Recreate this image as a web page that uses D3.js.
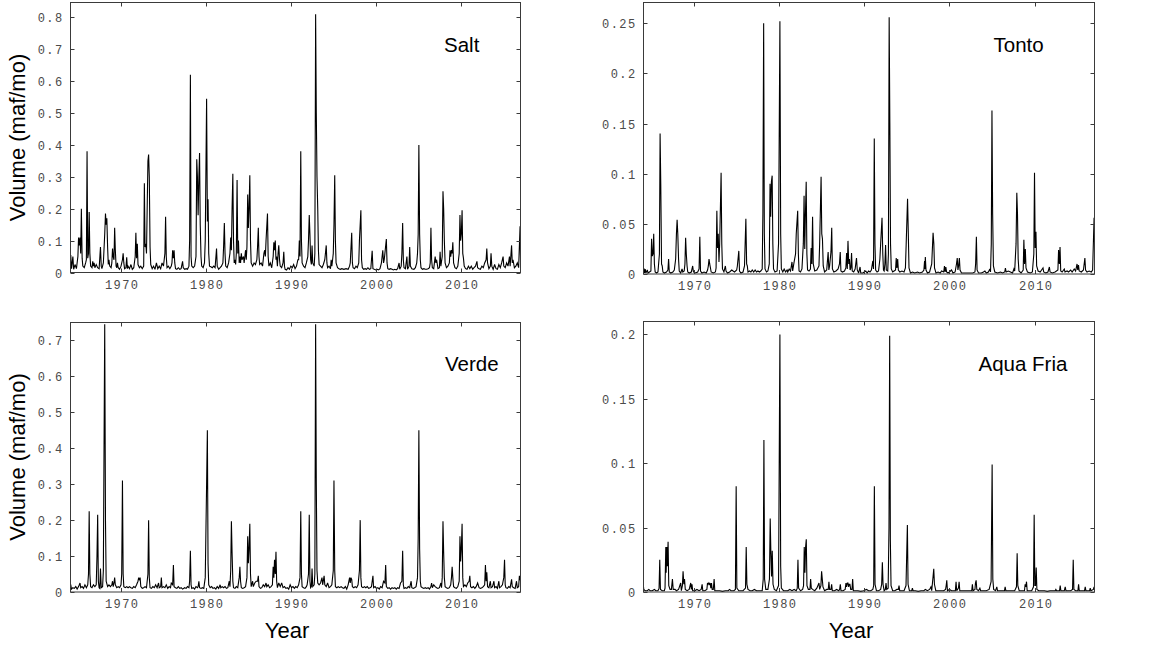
<!DOCTYPE html>
<html><head><meta charset="utf-8">
<script src="https://cdn.jsdelivr.net/npm/d3@7"></script>
<style>
html,body{margin:0;padding:0;background:#fff;}
svg{display:block;}
.tick-label{font-family:"Liberation Mono","DejaVu Sans Mono",monospace;font-size:12px;letter-spacing:1.4px;fill:#4a4a4a;}
.big{font-family:"Liberation Sans",Arial,sans-serif;fill:#000;}
</style></head>
<body>
<svg id="chart" width="1151" height="648"></svg>
<script>
// ---- data (monthly volumes, maf/mo; [decimal year, value]) ----
const panelNames = ["Salt", "Tonto", "Verde", "Aqua Fria"];
const yearTicks = [1970, 1980, 1990, 2000, 2010];
const saltTicks = [0, 0.1, 0.2, 0.3, 0.4, 0.5, 0.6, 0.7, 0.8];
const tontoTicks = [0, 0.05, 0.1, 0.15, 0.2, 0.25];
const verdeTicks = [0, 0.1, 0.2, 0.3, 0.4, 0.5, 0.6, 0.7];
const aquaTicks = [0, 0.05, 0.1, 0.15, 0.2];
const yMaxes = [0.847, 0.2706, 0.75, 0.21];

const salt = [
[1964.0,0.015],[1964.08,0.055],[1964.17,0.012],[1964.25,0.03],[1964.33,0.05],[1964.42,0.01],[1964.58,0.025],[1964.75,0.012],[1964.92,0.05],
[1965.0,0.11],[1965.08,0.085],[1965.17,0.11],[1965.25,0.06],[1965.33,0.2],[1965.42,0.045],[1965.5,0.02],[1965.67,0.015],[1965.83,0.03],[1965.92,0.04],
[1966.0,0.38],[1966.08,0.045],[1966.17,0.06],[1966.25,0.19],[1966.33,0.06],[1966.42,0.02],[1966.58,0.015],[1966.67,0.035],[1966.75,0.02],[1966.83,0.03],[1966.92,0.015],[1967.08,0.025],[1967.25,0.015],[1967.42,0.012],
[1967.58,0.08],[1967.67,0.02],[1967.75,0.012],[1967.92,0.03],[1968.08,0.12],
[1968.17,0.185],[1968.25,0.15],[1968.33,0.17],[1968.42,0.08],[1968.5,0.025],[1968.58,0.04],[1968.67,0.02],[1968.83,0.015],[1968.92,0.03],
[1969.0,0.075],[1969.08,0.05],[1969.17,0.04],[1969.25,0.14],[1969.33,0.07],[1969.42,0.02],[1969.5,0.015],[1969.58,0.03],[1969.67,0.015],[1969.83,0.01],[1970.0,0.02],[1970.17,0.04],
[1970.25,0.06],[1970.33,0.03],[1970.42,0.012],[1970.58,0.015],[1970.67,0.048],[1970.75,0.012],[1970.83,0.02],[1971.0,0.012],[1971.17,0.025],[1971.33,0.01],[1971.5,0.015],[1971.67,0.05],
[1971.75,0.125],[1971.83,0.045],[1971.92,0.09],[1972.0,0.025],[1972.17,0.015],[1972.33,0.02],[1972.5,0.012],[1972.67,0.02],
[1972.75,0.28],[1972.83,0.08],[1972.92,0.09],[1973.0,0.06],[1973.08,0.2],[1973.17,0.35],[1973.25,0.37],[1973.33,0.3],[1973.42,0.08],[1973.5,0.025],[1973.67,0.012],[1973.83,0.02],[1974.0,0.01],[1974.17,0.03],[1974.33,0.012],[1974.5,0.02],[1974.67,0.012],[1974.83,0.03],[1975.0,0.02],[1975.17,0.06],
[1975.25,0.175],[1975.33,0.05],[1975.42,0.015],[1975.58,0.02],[1975.75,0.012],[1975.92,0.02],[1976.0,0.03],[1976.08,0.07],[1976.17,0.045],[1976.25,0.07],[1976.33,0.03],[1976.42,0.012],[1976.58,0.01],[1976.75,0.015],[1976.92,0.01],[1977.08,0.012],[1977.25,0.035],[1977.33,0.015],[1977.5,0.01],[1977.67,0.012],[1977.83,0.01],[1978.0,0.02],[1978.08,0.1],
[1978.17,0.62],[1978.25,0.05],[1978.33,0.02],[1978.5,0.015],[1978.67,0.02],[1978.83,0.05],
[1978.92,0.355],[1979.0,0.3],[1979.08,0.18],[1979.17,0.3],[1979.25,0.375],[1979.33,0.15],[1979.42,0.05],[1979.5,0.02],[1979.67,0.015],[1979.83,0.03],[1979.92,0.1],
[1980.08,0.545],[1980.17,0.16],[1980.25,0.23],[1980.33,0.06],[1980.42,0.02],[1980.58,0.018],[1980.75,0.015],[1980.92,0.02],[1981.08,0.015],
[1981.25,0.075],[1981.33,0.02],[1981.5,0.01],[1981.67,0.015],[1981.83,0.02],[1982.0,0.03],[1982.08,0.08],
[1982.17,0.155],[1982.25,0.06],[1982.33,0.02],[1982.5,0.015],[1982.67,0.03],[1982.83,0.06],
[1982.92,0.11],[1983.0,0.07],[1983.08,0.2],[1983.17,0.31],[1983.25,0.1],[1983.33,0.03],[1983.42,0.04],[1983.5,0.025],[1983.58,0.06],[1983.67,0.29],[1983.75,0.06],[1983.83,0.1],[1983.92,0.03],[1984.0,0.05],[1984.08,0.03],[1984.17,0.06],[1984.25,0.04],[1984.42,0.05],[1984.5,0.03],[1984.67,0.07],[1984.75,0.04],[1984.83,0.08],
[1984.92,0.245],[1985.0,0.14],[1985.08,0.2],[1985.17,0.305],[1985.25,0.1],[1985.33,0.03],[1985.5,0.02],[1985.67,0.03],[1985.83,0.025],[1986.0,0.04],[1986.08,0.08],
[1986.17,0.14],[1986.25,0.05],[1986.33,0.025],[1986.5,0.03],[1986.67,0.02],[1986.83,0.06],[1986.92,0.07],[1987.0,0.05],[1987.08,0.1],
[1987.25,0.185],[1987.33,0.05],[1987.42,0.02],[1987.58,0.03],[1987.75,0.015],[1987.92,0.05],[1988.0,0.095],[1988.08,0.07],
[1988.17,0.1],[1988.25,0.04],[1988.33,0.05],[1988.42,0.02],[1988.5,0.06],[1988.58,0.085],[1988.67,0.04],[1988.75,0.02],[1988.92,0.015],[1989.08,0.03],
[1989.17,0.065],[1989.25,0.02],[1989.33,0.01],[1989.5,0.008],[1989.67,0.015],[1989.83,0.01],[1990.0,0.02],[1990.17,0.015],[1990.33,0.025],[1990.5,0.012],[1990.67,0.02],[1990.83,0.04],[1990.92,0.04],[1991.0,0.1],[1991.08,0.05],
[1991.17,0.38],[1991.25,0.1],[1991.33,0.03],[1991.5,0.02],[1991.67,0.015],[1991.83,0.03],[1992.0,0.05],[1992.08,0.1],
[1992.17,0.18],[1992.25,0.12],[1992.33,0.04],[1992.42,0.025],[1992.5,0.085],[1992.58,0.03],[1992.75,0.02],[1992.83,0.06],
[1992.92,0.81],[1993.0,0.5],[1993.08,0.3],[1993.17,0.2],[1993.25,0.07],[1993.33,0.025],[1993.5,0.02],[1993.67,0.015],[1993.83,0.025],[1994.0,0.04],
[1994.17,0.085],[1994.25,0.03],[1994.33,0.015],[1994.5,0.02],[1994.67,0.012],[1994.75,0.04],[1994.83,0.02],[1994.92,0.04],[1995.0,0.06],[1995.08,0.15],
[1995.17,0.305],[1995.25,0.1],[1995.33,0.03],[1995.5,0.015],[1995.67,0.012],[1995.83,0.01],[1996.0,0.012],[1996.25,0.01],[1996.5,0.012],[1996.75,0.01],[1996.92,0.02],[1997.0,0.03],
[1997.17,0.125],[1997.25,0.03],[1997.33,0.015],[1997.5,0.012],[1997.67,0.02],[1997.83,0.015],[1998.0,0.03],[1998.08,0.1],
[1998.25,0.195],[1998.33,0.04],[1998.42,0.015],[1998.58,0.01],[1998.75,0.012],[1998.92,0.01],[1999.08,0.015],[1999.25,0.01],[1999.42,0.012],
[1999.58,0.068],[1999.67,0.012],[1999.83,0.01],[2000.0,0.008],[2000.17,0.01],[2000.33,0.008],[2000.5,0.012],[2000.67,0.03],
[2000.83,0.07],[2000.92,0.03],[2001.0,0.04],[2001.08,0.06],[2001.25,0.105],[2001.33,0.03],[2001.42,0.012],[2001.58,0.01],[2001.75,0.012],[2001.92,0.01],[2002.08,0.008],[2002.25,0.01],[2002.42,0.008],[2002.58,0.012],[2002.75,0.03],[2002.83,0.01],[2003.0,0.02],[2003.08,0.06],
[2003.17,0.155],[2003.25,0.04],[2003.33,0.015],[2003.5,0.012],[2003.67,0.05],[2003.75,0.01],[2003.92,0.02],
[2004.0,0.08],[2004.08,0.02],[2004.25,0.012],[2004.5,0.01],[2004.67,0.015],[2004.83,0.03],[2004.92,0.06],
[2005.0,0.12],[2005.08,0.4],[2005.17,0.12],[2005.25,0.04],[2005.33,0.015],[2005.5,0.01],[2005.67,0.012],[2005.83,0.01],[2006.0,0.01],[2006.17,0.012],[2006.33,0.015],[2006.42,0.03],
[2006.5,0.14],[2006.58,0.04],[2006.67,0.015],[2006.83,0.012],[2007.0,0.05],[2007.08,0.03],[2007.17,0.04],[2007.33,0.012],[2007.5,0.015],[2007.58,0.065],[2007.67,0.02],[2007.83,0.05],
[2007.92,0.255],[2008.0,0.2],[2008.08,0.1],[2008.17,0.03],[2008.33,0.015],[2008.5,0.02],[2008.67,0.03],[2008.75,0.07],[2008.83,0.05],[2008.92,0.07],[2009.0,0.06],
[2009.08,0.095],[2009.17,0.03],[2009.33,0.015],[2009.5,0.012],[2009.67,0.02],[2009.83,0.06],
[2009.92,0.18],[2010.0,0.1],[2010.08,0.12],[2010.17,0.195],[2010.25,0.06],[2010.33,0.045],[2010.42,0.02],[2010.58,0.012],[2010.75,0.01],[2010.92,0.02],[2011.08,0.012],[2011.25,0.02],[2011.42,0.01],[2011.58,0.015],[2011.75,0.02],[2011.92,0.035],[2012.0,0.015],[2012.17,0.012],[2012.33,0.01],[2012.5,0.02],[2012.67,0.015],[2012.83,0.03],[2013.0,0.04],
[2013.08,0.075],[2013.17,0.03],[2013.33,0.012],[2013.5,0.02],[2013.58,0.06],[2013.67,0.02],[2013.83,0.01],[2014.0,0.025],[2014.17,0.012],[2014.33,0.01],[2014.5,0.025],[2014.67,0.015],[2014.83,0.03],
[2015.0,0.05],[2015.08,0.02],[2015.25,0.015],[2015.42,0.03],[2015.58,0.02],[2015.75,0.05],[2015.83,0.02],
[2016.0,0.085],[2016.08,0.03],[2016.17,0.04],[2016.33,0.015],[2016.5,0.02],[2016.67,0.03],[2016.83,0.015],[2017.0,0.145],[2017.06,0.03]
];

const tonto = [
[1964.0,0.002],[1964.08,0.006],[1964.17,0.001],[1964.25,0.005],[1964.33,0.001],[1964.5,0.004],[1964.58,0.001],[1964.75,0.002],[1964.92,0.003],
[1965.0,0.035],[1965.08,0.018],[1965.17,0.02],[1965.25,0.04],[1965.33,0.01],[1965.42,0.002],[1965.58,0.001],[1965.75,0.002],[1965.92,0.02],
[1966.0,0.14],[1966.08,0.09],[1966.17,0.01],[1966.25,0.008],[1966.33,0.002],[1966.5,0.001],[1966.75,0.002],[1966.92,0.004],
[1967.0,0.015],[1967.08,0.002],[1967.25,0.001],[1967.5,0.002],[1967.67,0.004],[1967.83,0.015],[1967.92,0.04],
[1968.0,0.054],[1968.08,0.04],[1968.17,0.015],[1968.25,0.003],[1968.42,0.001],[1968.58,0.005],[1968.67,0.002],[1968.83,0.003],[1968.92,0.01],
[1969.0,0.036],[1969.08,0.02],[1969.17,0.008],[1969.25,0.002],[1969.42,0.001],[1969.67,0.002],[1969.83,0.008],[1969.92,0.002],[1970.17,0.001],[1970.42,0.002],[1970.58,0.005],
[1970.67,0.037],[1970.75,0.003],[1970.92,0.001],[1971.17,0.002],[1971.42,0.001],[1971.58,0.004],[1971.67,0.008],[1971.75,0.015],[1971.83,0.01],[1971.92,0.006],[1972.0,0.002],[1972.25,0.001],[1972.5,0.002],[1972.58,0.006],
[1972.67,0.063],[1972.75,0.026],[1972.83,0.04],[1972.92,0.012],[1973.0,0.03],[1973.17,0.101],[1973.25,0.03],[1973.33,0.005],[1973.5,0.002],[1973.67,0.008],[1973.75,0.003],[1973.92,0.001],[1974.17,0.002],[1974.42,0.004],[1974.58,0.003],[1974.75,0.002],[1975.0,0.004],[1975.08,0.008],
[1975.25,0.023],[1975.33,0.003],[1975.5,0.001],[1975.75,0.002],[1975.92,0.008],
[1976.08,0.055],[1976.17,0.01],[1976.25,0.008],[1976.33,0.002],[1976.5,0.003],[1976.67,0.002],[1976.83,0.004],[1977.0,0.002],[1977.17,0.004],[1977.33,0.002],[1977.5,0.003],[1977.67,0.002],[1977.83,0.003],[1978.0,0.005],[1978.08,0.06],
[1978.17,0.25],[1978.25,0.04],[1978.33,0.005],[1978.5,0.002],[1978.67,0.003],[1978.83,0.01],[1978.92,0.09],[1979.0,0.057],[1979.08,0.092],[1979.17,0.098],[1979.25,0.03],[1979.33,0.005],[1979.5,0.002],[1979.75,0.003],[1979.92,0.03],
[1980.08,0.252],[1980.17,0.04],[1980.25,0.005],[1980.42,0.002],[1980.58,0.005],[1980.75,0.002],[1980.92,0.004],[1981.0,0.002],[1981.17,0.005],[1981.33,0.003],[1981.5,0.012],[1981.58,0.003],[1981.75,0.012],[1981.92,0.02],[1982.0,0.04],
[1982.17,0.063],[1982.25,0.02],[1982.33,0.003],[1982.5,0.002],[1982.67,0.005],[1982.83,0.03],
[1982.92,0.078],[1983.0,0.025],[1983.08,0.06],[1983.17,0.092],[1983.25,0.02],[1983.33,0.004],[1983.5,0.003],[1983.67,0.005],[1983.75,0.026],[1983.83,0.01],[1983.92,0.057],[1984.0,0.01],[1984.17,0.003],[1984.42,0.004],[1984.67,0.008],[1984.75,0.03],
[1984.92,0.097],[1985.0,0.04],[1985.08,0.035],[1985.17,0.008],[1985.33,0.002],[1985.58,0.004],[1985.75,0.022],[1985.83,0.004],[1985.92,0.008],
[1986.08,0.022],[1986.17,0.046],[1986.25,0.005],[1986.42,0.002],[1986.67,0.003],[1986.92,0.005],[1987.08,0.01],
[1987.17,0.022],[1987.25,0.003],[1987.42,0.002],[1987.67,0.003],[1987.83,0.006],[1987.92,0.021],[1988.0,0.005],[1988.08,0.033],[1988.17,0.01],[1988.25,0.015],[1988.33,0.004],[1988.42,0.006],[1988.5,0.021],[1988.58,0.003],[1988.75,0.002],[1988.92,0.005],
[1989.08,0.016],[1989.17,0.004],[1989.33,0.001],[1989.5,0.007],[1989.58,0.001],[1989.83,0.001],[1990.0,0.002],[1990.17,0.003],[1990.33,0.001],[1990.5,0.003],[1990.67,0.002],[1990.83,0.004],[1991.0,0.013],[1991.08,0.005],
[1991.17,0.135],[1991.25,0.03],[1991.33,0.004],[1991.5,0.002],[1991.67,0.003],[1991.83,0.015],[1991.92,0.03],
[1992.08,0.056],[1992.17,0.02],[1992.25,0.004],[1992.33,0.003],[1992.42,0.01],[1992.5,0.029],[1992.58,0.004],[1992.75,0.003],[1992.83,0.02],
[1992.92,0.256],[1993.0,0.15],[1993.08,0.03],[1993.17,0.005],[1993.33,0.002],[1993.5,0.003],[1993.67,0.004],[1993.75,0.016],[1993.83,0.006],[1993.92,0.015],[1994.0,0.004],[1994.17,0.002],[1994.42,0.003],[1994.67,0.002],[1994.83,0.006],[1994.92,0.03],
[1995.08,0.075],[1995.17,0.04],[1995.25,0.006],[1995.42,0.001],[1995.67,0.002],[1995.92,0.001],[1996.25,0.002],[1996.5,0.001],[1996.83,0.002],[1997.0,0.004],
[1997.08,0.013],[1997.12,0.005],[1997.17,0.017],[1997.25,0.004],[1997.42,0.001],[1997.67,0.002],[1997.92,0.01],
[1998.08,0.041],[1998.17,0.03],[1998.25,0.006],[1998.42,0.001],[1998.67,0.002],[1998.92,0.001],[1999.08,0.003],[1999.33,0.002],[1999.42,0.008],[1999.5,0.002],[1999.58,0.007],[1999.67,0.002],[1999.83,0.001],[2000.0,0.002],[2000.25,0.004],[2000.42,0.001],[2000.67,0.002],[2000.83,0.01],
[2000.92,0.016],[2001.0,0.004],[2001.08,0.008],[2001.17,0.016],[2001.25,0.004],[2001.42,0.001],[2001.75,0.001],[2002.08,0.001],[2002.42,0.001],[2002.75,0.001],[2003.0,0.002],[2003.08,0.01],
[2003.17,0.037],[2003.25,0.004],[2003.42,0.001],[2003.75,0.001],[2004.0,0.002],[2004.17,0.003],[2004.33,0.001],[2004.58,0.002],[2004.75,0.005],[2004.83,0.002],[2004.92,0.03],
[2005.0,0.163],[2005.08,0.06],[2005.17,0.008],[2005.33,0.002],[2005.67,0.001],[2006.0,0.002],[2006.25,0.001],[2006.5,0.002],[2006.58,0.006],[2006.67,0.002],[2006.92,0.003],[2007.17,0.002],[2007.42,0.001],[2007.58,0.005],[2007.67,0.003],[2007.83,0.03],
[2007.92,0.081],[2008.0,0.06],[2008.08,0.015],[2008.17,0.003],[2008.42,0.001],[2008.67,0.004],
[2008.75,0.034],[2008.83,0.01],[2008.92,0.025],[2009.0,0.006],[2009.17,0.002],[2009.5,0.001],[2009.75,0.002],[2009.92,0.02],
[2010.0,0.101],[2010.08,0.026],[2010.17,0.042],[2010.25,0.008],[2010.42,0.003],[2010.67,0.002],[2010.83,0.004],[2011.0,0.006],[2011.08,0.002],[2011.33,0.001],[2011.58,0.002],[2011.75,0.007],[2011.83,0.002],[2012.08,0.001],[2012.42,0.002],[2012.75,0.004],
[2012.83,0.024],[2012.92,0.01],[2013.0,0.027],[2013.08,0.003],[2013.25,0.002],[2013.5,0.005],[2013.58,0.002],[2013.83,0.003],[2014.0,0.002],[2014.25,0.004],[2014.42,0.002],[2014.67,0.005],[2014.83,0.003],[2015.0,0.01],[2015.08,0.004],[2015.17,0.009],[2015.25,0.003],[2015.5,0.002],[2015.75,0.004],
[2015.92,0.016],[2016.0,0.004],[2016.17,0.002],[2016.42,0.003],[2016.67,0.002],[2016.83,0.004],[2017.0,0.056],[2017.06,0.03]
];

const verde = [
[1964.0,0.025],[1964.08,0.02],[1964.17,0.008],[1964.33,0.012],[1964.5,0.01],[1964.67,0.015],[1964.83,0.008],[1965.0,0.015],[1965.17,0.025],[1965.25,0.012],[1965.42,0.015],[1965.58,0.01],[1965.75,0.02],[1965.92,0.012],[1966.08,0.02],
[1966.17,0.05],[1966.25,0.225],[1966.33,0.05],[1966.42,0.015],[1966.58,0.012],[1966.75,0.02],[1966.92,0.015],[1967.08,0.02],
[1967.17,0.1],[1967.25,0.215],[1967.33,0.03],[1967.42,0.012],[1967.5,0.01],[1967.58,0.065],[1967.67,0.012],[1967.83,0.015],[1967.92,0.06],
[1968.08,0.745],[1968.17,0.2],[1968.25,0.03],[1968.42,0.015],[1968.58,0.02],[1968.75,0.015],[1968.92,0.02],[1969.0,0.03],[1969.08,0.015],[1969.17,0.025],[1969.25,0.04],[1969.33,0.02],[1969.5,0.012],[1969.67,0.015],[1969.83,0.012],[1970.0,0.02],[1970.08,0.05],
[1970.17,0.31],[1970.25,0.05],[1970.33,0.015],[1970.5,0.012],[1970.67,0.015],[1970.83,0.012],[1971.0,0.015],[1971.17,0.012],[1971.33,0.01],[1971.5,0.015],[1971.67,0.012],[1971.83,0.02],[1972.0,0.03],
[1972.08,0.04],[1972.17,0.035],[1972.25,0.04],[1972.33,0.015],[1972.5,0.01],[1972.67,0.012],[1972.83,0.015],[1973.0,0.012],[1973.17,0.05],
[1973.25,0.2],[1973.33,0.04],[1973.42,0.012],[1973.58,0.01],[1973.75,0.015],[1973.92,0.012],[1974.08,0.02],[1974.25,0.012],[1974.42,0.025],[1974.5,0.012],[1974.67,0.015],
[1974.75,0.04],[1974.83,0.012],[1975.0,0.015],[1975.17,0.012],[1975.33,0.02],[1975.5,0.01],[1975.67,0.015],[1975.83,0.012],[1975.92,0.025],[1976.08,0.02],
[1976.17,0.075],[1976.25,0.015],[1976.42,0.012],[1976.58,0.01],[1976.75,0.015],[1976.92,0.01],[1977.08,0.012],[1977.25,0.008],[1977.5,0.012],[1977.67,0.01],[1977.83,0.015],[1978.0,0.012],[1978.08,0.03],
[1978.17,0.115],[1978.25,0.02],[1978.33,0.01],[1978.5,0.012],[1978.67,0.008],[1978.83,0.015],[1979.0,0.012],[1979.08,0.015],
[1979.17,0.03],[1979.25,0.012],[1979.42,0.01],[1979.58,0.012],[1979.75,0.01],[1979.92,0.04],[1980.08,0.3],
[1980.17,0.45],[1980.25,0.08],[1980.33,0.02],[1980.5,0.012],[1980.67,0.015],[1980.83,0.01],[1981.0,0.012],[1981.17,0.008],[1981.33,0.015],[1981.5,0.01],[1981.67,0.02],[1981.75,0.012],[1981.92,0.015],[1982.08,0.012],[1982.25,0.015],[1982.42,0.01],[1982.58,0.012],[1982.75,0.03],[1982.83,0.015],[1982.92,0.06],
[1983.0,0.197],[1983.08,0.11],[1983.17,0.03],[1983.25,0.012],[1983.42,0.01],[1983.58,0.015],[1983.75,0.012],[1983.92,0.04],
[1984.0,0.07],[1984.08,0.03],[1984.17,0.012],[1984.33,0.01],[1984.5,0.012],[1984.67,0.015],[1984.83,0.04],
[1984.92,0.155],[1985.0,0.08],[1985.08,0.12],[1985.17,0.19],[1985.25,0.05],[1985.33,0.015],[1985.5,0.03],[1985.58,0.015],[1985.75,0.025],[1985.92,0.03],[1986.08,0.03],
[1986.17,0.045],[1986.25,0.015],[1986.42,0.01],[1986.58,0.012],[1986.75,0.02],[1986.92,0.015],[1987.08,0.025],[1987.17,0.015],[1987.33,0.02],[1987.5,0.012],[1987.67,0.015],[1987.83,0.02],[1987.92,0.07],[1988.0,0.04],
[1988.08,0.09],[1988.17,0.05],[1988.25,0.112],[1988.33,0.03],[1988.42,0.012],[1988.58,0.025],[1988.75,0.015],[1988.92,0.025],[1989.08,0.012],[1989.25,0.015],[1989.42,0.01],[1989.58,0.012],[1989.75,0.008],[1989.92,0.02],[1990.08,0.012],[1990.25,0.015],[1990.42,0.01],[1990.58,0.015],[1990.75,0.012],[1990.92,0.02],[1991.08,0.04],
[1991.17,0.225],[1991.25,0.05],[1991.33,0.015],[1991.5,0.012],[1991.67,0.01],[1991.83,0.015],[1991.92,0.02],[1992.08,0.05],
[1992.17,0.215],[1992.25,0.03],[1992.33,0.012],[1992.42,0.015],[1992.5,0.065],[1992.58,0.015],[1992.75,0.02],[1992.83,0.05],
[1992.92,0.745],[1993.0,0.3],[1993.08,0.06],[1993.17,0.025],[1993.33,0.02],[1993.5,0.025],[1993.67,0.04],[1993.75,0.02],[1993.92,0.045],[1994.0,0.02],[1994.17,0.015],[1994.33,0.025],[1994.5,0.012],[1994.67,0.015],[1994.83,0.02],[1995.0,0.06],
[1995.08,0.31],[1995.17,0.06],[1995.25,0.015],[1995.42,0.012],[1995.58,0.015],[1995.75,0.012],[1995.92,0.015],[1996.08,0.012],[1996.25,0.01],[1996.42,0.015],[1996.58,0.008],[1996.75,0.02],[1996.92,0.04],[1997.0,0.025],[1997.08,0.04],[1997.17,0.035],[1997.25,0.015],[1997.42,0.012],[1997.58,0.015],[1997.75,0.012],[1997.92,0.02],[1998.08,0.06],
[1998.17,0.2],[1998.25,0.04],[1998.33,0.015],[1998.5,0.012],[1998.67,0.015],[1998.83,0.012],[1999.0,0.015],[1999.17,0.01],[1999.33,0.012],[1999.5,0.015],
[1999.67,0.045],[1999.75,0.012],[1999.92,0.015],[2000.08,0.01],[2000.25,0.012],[2000.42,0.008],[2000.58,0.015],[2000.75,0.012],[2000.92,0.03],[2001.08,0.025],
[2001.17,0.075],[2001.25,0.015],[2001.42,0.01],[2001.58,0.012],[2001.75,0.008],[2001.92,0.012],[2002.08,0.01],[2002.25,0.012],[2002.42,0.008],[2002.58,0.012],[2002.75,0.01],[2002.92,0.025],[2003.08,0.03],
[2003.17,0.115],[2003.25,0.02],[2003.33,0.01],[2003.5,0.012],[2003.67,0.01],[2003.83,0.015],[2004.0,0.012],[2004.17,0.03],[2004.25,0.012],[2004.42,0.01],[2004.58,0.012],[2004.75,0.015],[2004.92,0.04],[2005.0,0.15],
[2005.08,0.45],[2005.17,0.12],[2005.25,0.03],[2005.33,0.015],[2005.5,0.012],[2005.67,0.01],[2005.83,0.012],[2006.0,0.01],[2006.17,0.012],[2006.33,0.008],[2006.5,0.015],[2006.58,0.025],[2006.67,0.012],[2006.83,0.02],[2007.0,0.015],[2007.17,0.012],[2007.33,0.01],[2007.5,0.012],[2007.67,0.025],[2007.75,0.012],[2007.83,0.04],
[2007.92,0.197],[2008.0,0.11],[2008.08,0.04],[2008.17,0.015],[2008.33,0.012],[2008.5,0.01],[2008.67,0.012],[2008.83,0.02],[2008.92,0.04],
[2009.0,0.07],[2009.08,0.04],[2009.17,0.015],[2009.33,0.012],[2009.5,0.01],[2009.67,0.015],[2009.83,0.03],
[2009.92,0.155],[2010.0,0.085],[2010.08,0.12],[2010.17,0.19],[2010.25,0.04],[2010.33,0.015],[2010.5,0.02],[2010.67,0.015],[2010.83,0.025],[2011.0,0.03],[2011.08,0.045],[2011.17,0.015],[2011.33,0.012],[2011.5,0.015],[2011.67,0.01],[2011.83,0.015],[2012.0,0.025],[2012.17,0.012],[2012.33,0.01],[2012.5,0.012],[2012.67,0.015],[2012.83,0.02],
[2012.92,0.075],[2013.0,0.03],[2013.08,0.055],[2013.17,0.015],[2013.33,0.012],[2013.5,0.03],[2013.58,0.012],[2013.75,0.015],[2013.92,0.03],[2014.0,0.012],[2014.17,0.015],[2014.33,0.01],[2014.5,0.03],[2014.58,0.012],[2014.75,0.015],[2014.92,0.02],[2015.08,0.04],
[2015.17,0.09],[2015.25,0.02],[2015.33,0.012],[2015.5,0.01],[2015.67,0.015],[2015.83,0.012],[2016.0,0.035],[2016.08,0.015],[2016.25,0.012],[2016.42,0.01],[2016.58,0.03],[2016.67,0.012],[2016.83,0.015],[2016.92,0.045],[2017.06,0.03]
];

const aquaFria = [
[1964.0,0.008],[1964.08,0.002],[1964.25,0.001],[1964.5,0.001],[1964.67,0.002],[1964.83,0.001],[1965.08,0.001],[1965.33,0.002],[1965.5,0.001],[1965.75,0.001],[1965.88,0.003],
[1965.96,0.025],[1966.04,0.002],[1966.25,0.001],[1966.5,0.001],[1966.58,0.003],[1966.67,0.035],[1966.71,0.015],[1966.79,0.035],[1966.85,0.02],[1966.94,0.039],[1967.02,0.005],[1967.17,0.002],[1967.33,0.002],
[1967.45,0.01],[1967.54,0.002],[1967.75,0.002],[1967.92,0.001],[1968.17,0.002],[1968.42,0.007],[1968.5,0.001],[1968.62,0.005],
[1968.7,0.016],[1968.79,0.006],[1968.87,0.01],[1968.96,0.002],[1969.17,0.001],[1969.42,0.002],[1969.6,0.007],[1969.67,0.002],[1969.75,0.006],[1969.83,0.001],[1970.08,0.001],[1970.33,0.002],[1970.58,0.001],[1970.83,0.002],
[1970.94,0.006],[1971.02,0.001],[1971.25,0.001],[1971.5,0.002],[1971.57,0.007],[1971.65,0.006],[1971.73,0.007],[1971.8,0.006],[1971.88,0.007],[1971.96,0.003],[1972.04,0.007],[1972.12,0.002],[1972.25,0.002],[1972.35,0.01],[1972.43,0.001],[1972.67,0.001],[1973.0,0.001],[1973.33,0.0005],[1973.67,0.001],[1974.0,0.001],[1974.17,0.002],[1974.33,0.001],[1974.67,0.001],[1974.85,0.002],
[1974.94,0.082],[1975.02,0.003],[1975.25,0.001],[1975.5,0.001],[1975.75,0.001],[1976.04,0.003],
[1976.12,0.035],[1976.2,0.006],[1976.33,0.002],[1976.58,0.001],[1976.83,0.001],[1977.08,0.002],[1977.33,0.001],[1977.67,0.001],[1978.0,0.001],[1978.12,0.01],
[1978.2,0.118],[1978.28,0.01],[1978.42,0.002],[1978.67,0.002],[1978.85,0.01],[1978.94,0.057],[1979.02,0.03],[1979.1,0.012],[1979.18,0.032],[1979.27,0.006],[1979.42,0.002],[1979.67,0.001],[1979.92,0.005],
[1980.08,0.2],[1980.17,0.02],[1980.25,0.003],[1980.5,0.001],[1980.75,0.001],[1981.0,0.001],[1981.25,0.002],[1981.5,0.001],[1981.75,0.002],[1982.0,0.001],[1982.12,0.003],
[1982.2,0.025],[1982.28,0.003],[1982.5,0.001],[1982.75,0.002],[1982.86,0.005],[1982.94,0.035],[1983.02,0.015],[1983.1,0.035],[1983.18,0.041],[1983.26,0.005],[1983.42,0.002],[1983.61,0.002],[1983.69,0.01],[1983.77,0.003],[1983.92,0.002],[1984.17,0.001],[1984.42,0.003],[1984.67,0.007],[1984.75,0.002],[1984.9,0.005],
[1984.98,0.016],[1985.06,0.01],[1985.14,0.004],[1985.33,0.001],[1985.58,0.002],[1985.76,0.002],[1985.84,0.008],[1985.92,0.002],[1986.08,0.002],[1986.16,0.006],[1986.24,0.001],[1986.5,0.001],[1986.75,0.002],[1987.0,0.001],[1987.1,0.002],[1987.18,0.006],[1987.26,0.001],[1987.5,0.001],[1987.75,0.002],
[1987.84,0.007],[1987.92,0.004],[1988.0,0.007],[1988.08,0.007],[1988.16,0.004],[1988.23,0.006],[1988.31,0.006],[1988.4,0.002],[1988.55,0.002],[1988.63,0.01],[1988.71,0.001],[1988.92,0.001],[1989.25,0.001],[1989.58,0.0005],[1989.92,0.001],[1990.25,0.002],[1990.5,0.001],[1990.75,0.001],[1991.0,0.002],[1991.1,0.005],
[1991.18,0.082],[1991.26,0.006],[1991.42,0.001],[1991.67,0.001],[1991.92,0.002],[1992.04,0.006],[1992.12,0.023],[1992.2,0.006],[1992.33,0.001],[1992.47,0.002],[1992.55,0.007],[1992.63,0.002],[1992.8,0.003],[1992.9,0.05],
[1992.98,0.199],[1993.06,0.04],[1993.14,0.005],[1993.33,0.001],[1993.58,0.001],[1993.83,0.002],[1994.0,0.002],[1994.08,0.005],[1994.16,0.001],[1994.42,0.001],[1994.67,0.001],[1994.9,0.005],
[1995.06,0.052],[1995.14,0.006],[1995.3,0.001],[1995.57,0.001],[1995.65,0.003],[1995.73,0.001],[1996.0,0.001],[1996.33,0.0005],[1996.67,0.001],[1997.0,0.001],[1997.17,0.002],[1997.42,0.001],[1997.67,0.002],[1997.83,0.004],[1997.92,0.001],[1998.08,0.012],
[1998.16,0.018],[1998.24,0.006],[1998.4,0.001],[1998.67,0.001],[1999.0,0.001],[1999.33,0.001],[1999.55,0.002],[1999.62,0.005],[1999.69,0.009],[1999.77,0.001],[2000.0,0.002],[2000.25,0.001],[2000.5,0.001],[2000.7,0.001],
[2000.78,0.008],[2000.86,0.001],[2001.06,0.003],[2001.14,0.008],[2001.22,0.001],[2001.5,0.001],[2001.83,0.001],[2002.17,0.001],[2002.5,0.001],[2002.62,0.001],[2002.7,0.006],[2002.78,0.001],[2003.0,0.002],[2003.06,0.007],[2003.14,0.009],[2003.22,0.002],[2003.42,0.001],[2003.58,0.003],[2003.67,0.001],[2004.0,0.001],[2004.33,0.001],[2004.67,0.002],[2004.9,0.008],
[2005.02,0.099],[2005.1,0.01],[2005.2,0.002],[2005.42,0.001],[2005.57,0.004],[2005.65,0.001],[2006.0,0.001],[2006.25,0.001],[2006.47,0.001],[2006.55,0.004],[2006.63,0.001],[2007.0,0.001],[2007.33,0.001],[2007.67,0.001],[2007.88,0.004],
[2007.96,0.03],[2008.04,0.005],[2008.2,0.001],[2008.5,0.001],[2008.82,0.001],[2008.9,0.006],[2008.98,0.004],[2009.06,0.008],[2009.14,0.001],[2009.42,0.001],[2009.67,0.001],[2009.88,0.004],
[2009.96,0.06],[2010.04,0.005],[2010.12,0.005],[2010.2,0.019],[2010.28,0.002],[2010.5,0.001],[2010.83,0.001],[2011.17,0.001],[2011.5,0.0005],[2011.83,0.001],[2012.17,0.001],[2012.43,0.001],[2012.51,0.002],[2012.59,0.001],[2012.94,0.001],[2013.02,0.005],[2013.1,0.001],[2013.5,0.001],[2013.61,0.004],[2013.69,0.001],[2014.0,0.001],[2014.25,0.001],[2014.47,0.002],
[2014.55,0.025],[2014.63,0.002],[2014.83,0.001],[2015.1,0.001],[2015.18,0.006],[2015.26,0.001],[2015.5,0.001],[2015.88,0.001],[2015.96,0.004],[2016.04,0.001],[2016.3,0.001],[2016.47,0.001],[2016.55,0.003],[2016.63,0.001],[2016.92,0.002],[2017.0,0.004],[2017.06,0.003]
];

const seriesList = [salt, tonto, verde, aquaFria];
const tickList = [saltTicks, tontoTicks, verdeTicks, aquaTicks];
const xDomain = [1964.05, 2017.05];

// ---- layout ----
const rects = [
  {x0: 70.5, y0: 2.5, x1: 520.5, y1: 272.5, lx: 444, ly: 51.5},
  {x0: 643.5, y0: 2.5, x1: 1094.5, y1: 274, lx: 993.5, ly: 51.5},
  {x0: 70.5, y0: 322.5, x1: 520.5, y1: 592, lx: 445, ly: 370.5},
  {x0: 643.5, y0: 321.5, x1: 1094.5, y1: 592, lx: 978.5, ly: 370.5}
];

const svg = d3.select("#chart");
const fmt = d => d === 0 ? "0" : d3.format("~g")(d);
const T = 4;

rects.forEach((r, i) => {
  const x = d3.scaleLinear().domain(xDomain).range([r.x0, r.x1]);
  const y = d3.scaleLinear().domain([0, yMaxes[i]]).range([r.y1, r.y0]);
  const g = svg.append("g");

  const cid = "clip" + i;
  svg.append("defs").append("clipPath").attr("id", cid)
    .append("rect").attr("x", r.x0).attr("y", r.y0 - 1).attr("width", r.x1 - r.x0).attr("height", r.y1 - r.y0 + 1);

  // data line
  const line = d3.line().x(d => x(d[0])).y(d => y(d[1]));
  g.append("path").datum(seriesList[i])
    .attr("clip-path", `url(#${cid})`)
    .attr("d", line).attr("fill", "none").attr("stroke", "#000")
    .attr("stroke-width", 1.1).attr("stroke-linejoin", "miter").attr("stroke-miterlimit", 3);

  // frame
  g.append("rect").attr("x", r.x0).attr("y", r.y0).attr("width", r.x1 - r.x0).attr("height", r.y1 - r.y0)
    .attr("fill", "none").attr("stroke", "#3a3a3a").attr("stroke-width", 1);

  // x ticks (inward, top & bottom) + labels
  yearTicks.forEach(t => {
    const xx = Math.round(x(t)) + 0.5;
    g.append("line").attr("x1", xx).attr("x2", xx).attr("y1", r.y0).attr("y2", r.y0 + T).attr("stroke", "#3a3a3a");
    g.append("line").attr("x1", xx).attr("x2", xx).attr("y1", r.y1).attr("y2", r.y1 - T).attr("stroke", "#3a3a3a");
    g.append("text").attr("class", "tick-label").attr("x", xx + 0.7).attr("y", r.y1 + 16)
      .attr("text-anchor", "middle").text(t);
  });

  // y ticks (inward, left & right) + labels
  tickList[i].forEach(v => {
    const yy = Math.round(y(v)) + 0.5;
    g.append("line").attr("x1", r.x0).attr("x2", r.x0 + T).attr("y1", yy).attr("y2", yy).attr("stroke", "#3a3a3a");
    g.append("line").attr("x1", r.x1).attr("x2", r.x1 - T).attr("y1", yy).attr("y2", yy).attr("stroke", "#3a3a3a");
    g.append("text").attr("class", "tick-label").attr("x", r.x0 - 7).attr("y", yy + 4)
      .attr("text-anchor", "end").text(fmt(v));
  });

  // panel name
  g.append("text").attr("class", "big").attr("x", r.lx).attr("y", r.ly)
    .attr("font-size", 20.5).text(panelNames[i]);
});

// axis titles
[137.5, 457].forEach(cy => {
  svg.append("text").attr("class", "big").attr("font-size", 22)
    .attr("transform", `translate(25,${cy}) rotate(-90)`)
    .attr("text-anchor", "middle").text("Volume (maf/mo)");
});
[287, 851].forEach(cx => {
  svg.append("text").attr("class", "big").attr("font-size", 22)
    .attr("x", cx).attr("y", 638).attr("text-anchor", "middle").text("Year");
});
</script>
</body></html>
